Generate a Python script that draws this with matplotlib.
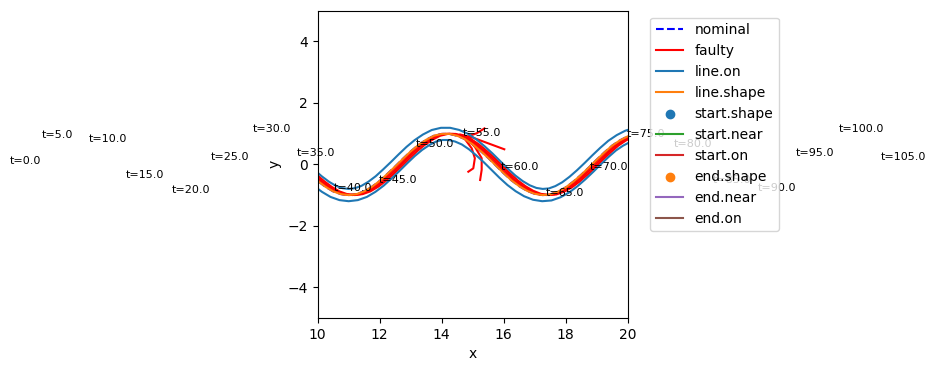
import numpy as np
import matplotlib
matplotlib.use('Agg')
import matplotlib.pyplot as plt

# reference path (line.shape)
shape_x = np.arange(9.5, 20.51, 0.25)
shape_y = [-0.08, -0.32, -0.54, -0.73, -0.88, -0.97, -1.00, -0.97, -0.88,
           -0.73, -0.54, -0.31, -0.07, 0.18, 0.42, 0.63, 0.80, 0.93, 0.99,
           0.99, 0.93, 0.82, 0.65, 0.44, 0.21, -0.04, -0.29, -0.52, -0.71,
           -0.86, -0.96, -1.00, -0.98, -0.89, -0.75, -0.56, -0.34, -0.10,
           0.15, 0.39, 0.61, 0.78, 0.91, 0.99, 1.00]
tol = 0.2  # line.on band half width, measured normal to the path

# faulty runs that follow the path, lagging behind in x
faulty_lag = [0.04, 0.12, 0.2]
# faulty runs that break away near x=15
branch_x = [[14.6, 15.0, 16.02],
            [14.9, 15.13, 15.38],
            [14.75, 14.97, 15.07, 15.02, 14.86],
            [14.85, 15.07, 15.29, 15.29, 15.24]]
branch_y = [[0.97, 0.87, 0.49],
            [0.93, 1.01, 1.17],
            [0.82, 0.52, 0.2, -0.13, -0.24],
            [0.8, 0.57, 0.2, -0.18, -0.51]]

# time stamps
t_vals = np.arange(0, 106, 5)
t_x = [0.07, 1.1, 2.62, 3.82, 5.3, 6.56, 7.91, 9.33, 10.53, 11.98, 13.17,
       14.69, 15.9, 17.36, 18.76, 19.98, 21.5, 22.75, 24.21, 25.42, 26.8, 28.17]
t_y = [0.01, 0.86, 0.73, -0.45, -0.94, 0.14, 1.06, 0.28, -0.88, -0.62, 0.56,
       0.92, -0.19, -1.03, -0.19, 0.9, 0.56, -0.62, -0.88, 0.27, 1.06, 0.14]

fig = plt.figure(figsize=(9.36, 3.71), dpi=100)
ax = fig.add_axes([0.3394, 0.1429, 0.3312, 0.8283])

ax.plot(shape_x, shape_y, 'b--', label='nominal')

for i, lag in enumerate(faulty_lag):
    ax.plot(shape_x + lag, shape_y, 'r', label='faulty' if i == 0 else None)
for bx, by in zip(branch_x, branch_y):
    ax.plot(bx, by, 'r')

# band edges offset along the normal of the path
dx = np.gradient(shape_x)
dy = np.gradient(shape_y)
n = np.hypot(dx, dy)
ax.plot(shape_x - tol * dy / n, np.array(shape_y) + tol * dx / n, color='C0', label='line.on')
ax.plot(shape_x + tol * dy / n, np.array(shape_y) - tol * dx / n, color='C0')
ax.plot(shape_x, shape_y, color='C1', label='line.shape')

ax.scatter([], [], color='C0', label='start.shape')
ax.plot([], [], color='C2', label='start.near')
ax.plot([], [], color='C3', label='start.on')
ax.scatter([], [], color='C1', label='end.shape')
ax.plot([], [], color='C4', label='end.near')
ax.plot([], [], color='C5', label='end.on')

for t, x, y in zip(t_vals, t_x, t_y):
    ax.text(x, y, f't={float(t)}', fontsize=8)

ax.set_xlim(10, 20)
ax.set_ylim(-5, 5)
ax.set_xlabel('x')
ax.set_ylabel('y')
ax.legend(loc='upper left', bbox_to_anchor=(1.05, 1))

fig.savefig('out.png')
